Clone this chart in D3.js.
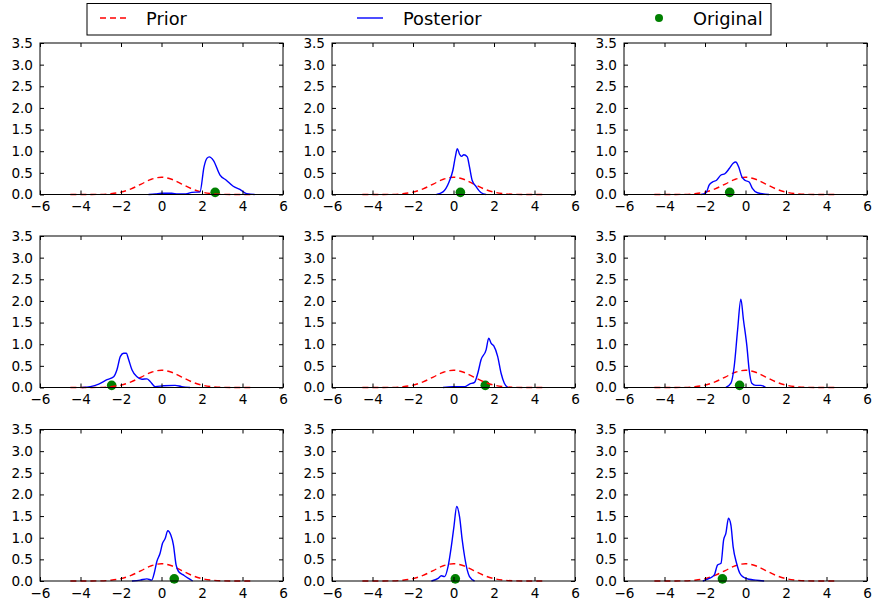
<!DOCTYPE html>
<html>
<head>
<meta charset="utf-8">
<script src="https://cdn.jsdelivr.net/npm/d3@7"></script>
<style>
  body { margin: 0; background: #fff; }
  svg text { font-family: "DejaVu Sans", sans-serif; fill: #000; }
</style>
</head>
<body>
<svg id="chart_svg" width="875" height="603"></svg>
<script>
// axis ticks
var xTicks = [-6, -4, -2, 0, 2, 4, 6]
var yTicks = [0, 0.5, 1, 1.5, 2, 2.5, 3, 3.5]

// prior curve (same in every panel)
var priorX = [-4.5, -4, -3.5, -3, -2.5, -2, -1.5, -1, -0.5, 0, 0.5, 1, 1.5, 2, 2.5, 3, 3.5, 4, 4.5]
var priorY = [0.0, 0.0001, 0.001, 0.004, 0.018, 0.054, 0.13, 0.242, 0.352, 0.399, 0.352, 0.242, 0.13, 0.054, 0.018, 0.004, 0.001, 0.0001, 0.0]

// original value per panel (green dot)
var originalX = [2.65, 0.34, -0.78, -2.46, 1.57, -0.29, 0.63, 0.09, -1.14]
var originalY = 0.05

// posterior curves, one per panel
var post1 = [[-0.64,0],[-0.3,0.01],[0,0.03],[0.5,0.03],[0.8,0.01],[1.2,0.01],[1.5,0.05],[1.9,0.06],[2.1,0.64],[2.25,0.84],[2.36,0.87],[2.56,0.79],[2.89,0.45],[3.2,0.33],[3.54,0.19],[3.87,0.12],[4.2,0.02],[4.6,0]]
var post2 = [[-0.84,0],[-0.52,0.06],[-0.22,0.29],[-0.03,0.56],[0.09,0.87],[0.19,1.06],[0.3,0.93],[0.4,0.88],[0.51,0.92],[0.68,0.87],[0.79,0.64],[0.92,0.33],[1.12,0.18],[1.37,0.04],[1.61,0]]
var post3 = [[-2.2,0],[-1.95,0.04],[-1.79,0.22],[-1.62,0.29],[-1.43,0.33],[-1.21,0.45],[-1.02,0.48],[-0.8,0.6],[-0.61,0.72],[-0.48,0.75],[-0.34,0.64],[-0.18,0.41],[-0.03,0.33],[0.18,0.29],[0.34,0.14],[0.59,0.04],[1.16,0]]
var post4 = [[-3.92,0],[-3.51,0.02],[-3.1,0.08],[-2.69,0.18],[-2.36,0.25],[-2.2,0.41],[-2.03,0.72],[-1.87,0.79],[-1.74,0.79],[-1.62,0.64],[-1.46,0.41],[-1.21,0.25],[-0.97,0.19],[-0.72,0.2],[-0.56,0.14],[-0.31,0.02],[0.1,0.04],[0.67,0.05],[1.0,0.02],[1.41,0]]
var post5 = [[-0.52,0],[-0.03,0.02],[0.55,0.02],[0.79,0.08],[1.04,0.12],[1.2,0.33],[1.36,0.64],[1.61,0.87],[1.74,1.14],[1.86,1.02],[1.99,0.96],[2.18,0.72],[2.35,0.33],[2.51,0.1],[2.67,0]]
var post6 = [[-0.97,0],[-0.72,0.1],[-0.56,0.48],[-0.39,1.33],[-0.23,2.04],[-0.1,1.56],[0.07,0.95],[0.18,0.41],[0.31,0.1],[0.51,0.05],[0.75,0.05],[1.0,0]]
var post7 = [[-1.46,0],[-1.05,0.02],[-0.72,0.05],[-0.48,0.02],[-0.36,0.18],[-0.23,0.45],[-0.07,0.64],[0.05,0.87],[0.18,0.98],[0.31,1.16],[0.46,1.06],[0.59,0.83],[0.72,0.37],[0.84,0.22],[1.08,0.14],[1.33,0.06],[1.54,0]]
var post8 = [[-1.09,0],[-0.76,0.06],[-0.6,0.12],[-0.44,0.1],[-0.27,0.33],[-0.11,0.79],[0.02,1.25],[0.16,1.72],[0.3,1.48],[0.43,0.95],[0.55,0.56],[0.68,0.25],[0.79,0.1],[1.04,0]]
var post9 = [[-2.11,0],[-1.79,0.06],[-1.54,0.14],[-1.38,0.37],[-1.21,0.41],[-1.08,0.95],[-0.97,1.1],[-0.84,1.45],[-0.72,1.29],[-0.61,0.79],[-0.44,0.41],[-0.28,0.18],[-0.07,0.08],[0.18,0.04],[0.51,0.02],[0.92,0]]
var posteriors = [post1, post2, post3, post4, post5, post6, post7, post8, post9]

var svg = d3.select("#chart_svg")
var panelLeft = [40, 332, 624]
var panelTop = [43, 236, 429.5]
var pw = 243, ph = 151.5

var xScale = d3.scaleLinear().domain([-6, 6]).range([0, pw])
var yScale = d3.scaleLinear().domain([0, 3.5]).range([ph, 0])

var priorData = priorX.map((x, i) => [x, priorY[i]])
var line = d3.line()
    .x(d => xScale(d[0]))
    .y(d => yScale(d[1]))
    .curve(d3.curveMonotoneX)

posteriors.forEach(function(post, i) {
    var col = i % 3, row = Math.floor(i / 3)
    var g = svg.append("g")
        .attr("transform", `translate(${panelLeft[col]},${panelTop[row]})`)

    // green dot
    g.append("circle")
        .attr("cx", xScale(originalX[i]))
        .attr("cy", yScale(originalY))
        .attr("r", 4.8)
        .attr("fill", "#008000")

    g.append("path")
        .datum(priorData)
        .attr("d", line)
        .attr("fill", "none")
        .attr("stroke", "#ff0000")
        .attr("stroke-width", 1.4)
        .attr("stroke-dasharray", "6,4")

    g.append("path")
        .datum(post)
        .attr("d", line)
        .attr("fill", "none")
        .attr("stroke", "#0000ff")
        .attr("stroke-width", 1.4)

    // axes, ticks inside on all four sides
    var xb = g.append("g").attr("transform", `translate(0,${ph})`)
        .call(d3.axisBottom(xScale).tickValues(xTicks).tickSizeInner(-4).tickSizeOuter(0).tickPadding(7).tickFormat(d => d < 0 ? "\u2212" + Math.abs(d) : d))
    var xt = g.append("g")
        .call(d3.axisTop(xScale).tickValues(xTicks).tickSizeInner(-4).tickSizeOuter(0).tickFormat(""))
    var yl = g.append("g")
        .call(d3.axisLeft(yScale).tickValues(yTicks).tickSizeInner(-4).tickSizeOuter(0).tickPadding(7).tickFormat(d3.format(".1f")))
    var yr = g.append("g").attr("transform", `translate(${pw},0)`)
        .call(d3.axisRight(yScale).tickValues(yTicks).tickSizeInner(-4).tickSizeOuter(0).tickFormat(""))

    ;[xb, xt, yl, yr].forEach(a => {
        a.attr("font-family", null).attr("font-size", null)
        a.select(".domain").remove()
        a.selectAll("line").attr("stroke", "#000")
        a.selectAll("text").style("font-size", "13.6px").attr("fill", "#000")
    })

    g.append("rect")
        .attr("width", pw)
        .attr("height", ph)
        .attr("fill", "none")
        .attr("stroke", "#000")
        .attr("stroke-width", 1)
})

// legend
var legend = svg.append("g")
legend.append("rect")
    .attr("x", 87).attr("y", 3.5)
    .attr("width", 684).attr("height", 31.5)
    .attr("fill", "#fff")
    .attr("stroke", "#000")
    .attr("stroke-width", 1)

legend.append("line")
    .attr("x1", 100).attr("x2", 126).attr("y1", 18).attr("y2", 18)
    .attr("stroke", "#ff0000").attr("stroke-width", 1.4).attr("stroke-dasharray", "6,4")
legend.append("text").attr("x", 146).attr("y", 24.5).style("font-size", "17.8px").text("Prior")

legend.append("line")
    .attr("x1", 357).attr("x2", 383).attr("y1", 18).attr("y2", 18)
    .attr("stroke", "#0000ff").attr("stroke-width", 1.4)
legend.append("text").attr("x", 403).attr("y", 24.5).style("font-size", "17.8px").text("Posterior")

legend.append("circle")
    .attr("cx", 659).attr("cy", 18).attr("r", 4).attr("fill", "#008000")
legend.append("text").attr("x", 693).attr("y", 24.5).style("font-size", "17.8px").text("Original")
</script>
</body>
</html>
